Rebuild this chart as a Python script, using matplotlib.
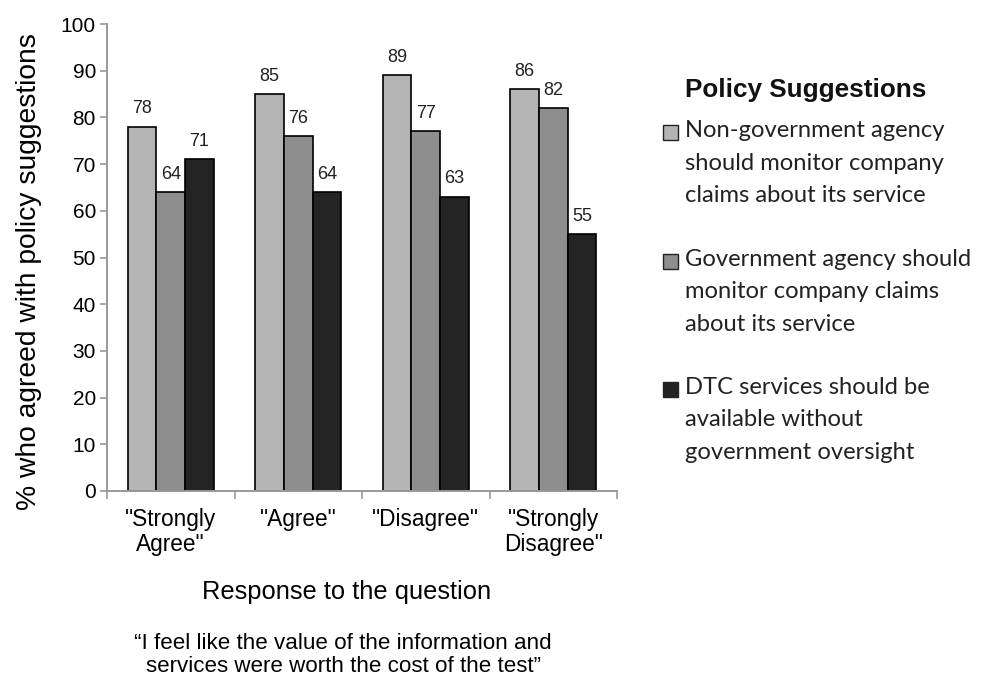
import numpy as np
import matplotlib.pyplot as plt
import matplotlib as mpl
from matplotlib.patches import Rectangle

mpl.rcParams['font.family'] = 'Liberation Sans'

# data
categories = ['"Strongly\nAgree"', '"Agree"', '"Disagree"', '"Strongly\nDisagree"']
non_gov = [78, 85, 89, 86]
gov = [64, 76, 77, 82]
no_oversight = [71, 64, 63, 55]
series_labels = ['Non-government agency\nshould monitor company\nclaims about its service',
                 'Government agency should\nmonitor company claims\nabout its service',
                 'DTC services should be\navailable without\ngovernment oversight']
colors = ['#b4b4b4', '#8e8e8e', '#232323']

W, H = 984, 679
fig = plt.figure(figsize=(W / 100, H / 100), dpi=100)
ax = fig.add_axes([107 / W, 1 - 491 / H, (617 - 107) / W, (491 - 24) / H])

x = np.arange(len(categories))
bw = 0.225
for i, (vals, c) in enumerate(zip([non_gov, gov, no_oversight], colors)):
    pos = x + (i - 1) * bw
    ax.bar(pos, vals, width=bw, color=c, edgecolor='black', linewidth=1.2)
    for p, v in zip(pos, vals):
        ax.text(p, v + 2.0, str(v), ha='center', va='bottom', fontsize=13, color='#222222')

ax.set_xlim(-0.5, len(categories) - 0.5)
ax.set_ylim(0, 100)
ax.set_yticks(range(0, 101, 10))
ax.set_xticks(np.arange(-0.5, len(categories), 1.0))
ax.set_xticklabels([])
ax.tick_params(axis='y', labelsize=15, color='#999999', length=5, direction='out', width=1.2, pad=3)
ax.tick_params(axis='x', color='#999999', length=6, direction='out', width=1.2)
for s in ['top', 'right']:
    ax.spines[s].set_visible(False)
for s in ['left', 'bottom']:
    ax.spines[s].set_color('#999999')
    ax.spines[s].set_linewidth(1.4)

for xi, lab in zip(x, categories):
    ax.text(xi, -3.6, lab, ha='center', va='top', fontsize=16.3, linespacing=1.1)

fig.text(29 / W, 1 - 272 / H, '% who agreed with policy suggestions', rotation=90,
         ha='center', va='center', fontsize=20.3)

fig.text(347 / W, 1 - 592 / H, 'Response to the question', ha='center', va='center', fontsize=18.4)
fig.text(343 / W, 1 - 655 / H,
         '\u201cI feel like the value of the information and\nservices were worth the cost of the test\u201d',
         ha='center', va='center', fontsize=16.1, linespacing=1.12)

# legend drawn by hand
fig.text(685 / W, 1 - 90 / H, 'Policy Suggestions', ha='left', va='center',
         fontsize=18.8, fontweight='bold', color='#111111')
mid_lines = [163, 292, 420]
for mid, lab, c in zip(mid_lines, series_labels, colors):
    top = mid - 31
    fig.patches.append(Rectangle((663 / W, 1 - (top + 8) / H), 15 / W, 15 / H,
                                 transform=fig.transFigure, facecolor=c,
                                 edgecolor='#222222', linewidth=1.0))
    fig.text(685 / W, 1 - mid / H, lab, ha='left', va='center',
             fontsize=17.1, family='Lato', linespacing=1.65, color='#222222')

fig.savefig('out.png', dpi=100)
